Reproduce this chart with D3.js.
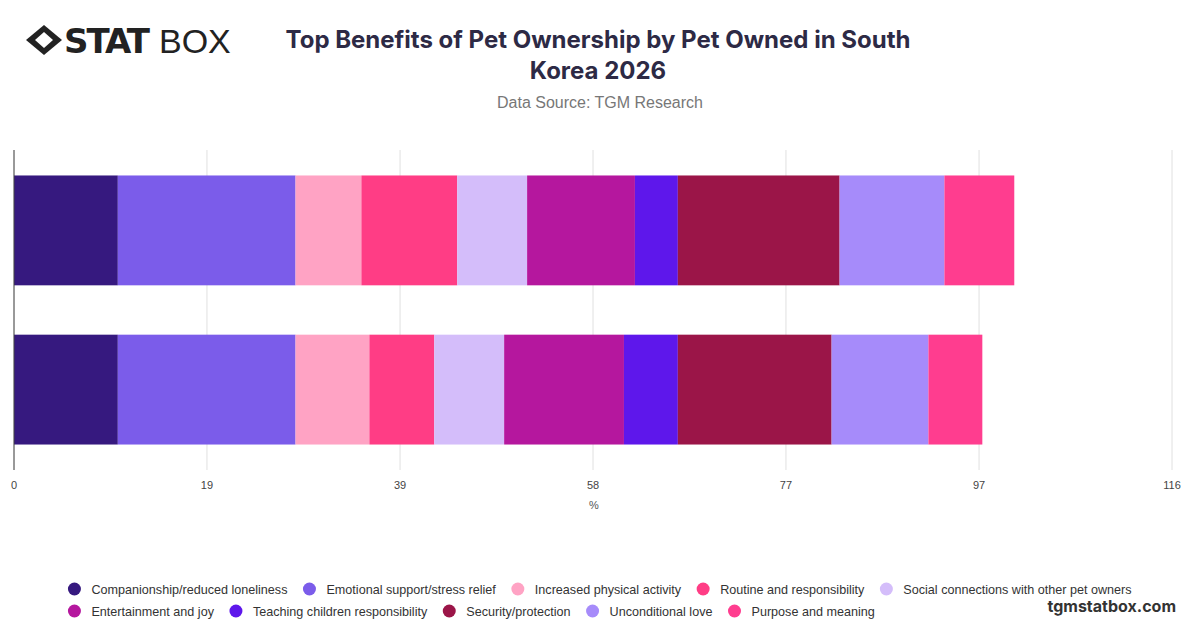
<!DOCTYPE html><html><head><meta charset="utf-8"><script src="https://cdn.jsdelivr.net/npm/d3@7"></script>
<style>body{margin:0;background:#fff;font-family:"Inter","Open Sans",sans-serif}</style></head><body><svg id="c" width="1200" height="628"></svg>
<script>
const categories=["Pet owner group 1","Pet owner group 2"];
const seriesNames=["Companionship/reduced loneliness","Emotional support/stress relief","Increased physical activity","Routine and responsibility","Social connections with other pet owners","Entertainment and joy","Teaching children responsibility","Security/protection","Unconditional love","Purpose and meaning"];
const colors=["#36197f","#7b5cea","#ffa3c4","#ff3d85","#d4bdfa","#b5179e","#5e17eb","#9b1548","#a68bfa","#ff3d8f"];
const values=[[10.4,17.8,6.6,9.6,7.0,10.8,4.3,16.2,10.5,7.0],[10.4,17.8,7.4,6.5,7.0,12.0,5.4,15.4,9.7,5.4]];
const tickValues=[0,19.33,38.67,58,77.33,96.67,116];
const tickLabels=["0","19","39","58","77","97","116"];
const svg=d3.select("#c");
const x=d3.scaleLinear().domain([0,116]).range([14,1172]);
const y=d3.scaleBand().domain(categories).range([150,470]).paddingInner(0.31).paddingOuter(0.16);
svg.append("g").selectAll("line").data(tickValues).join("line").attr("x1",d=>x(d)).attr("x2",d=>x(d)).attr("y1",150).attr("y2",470).attr("stroke","#e0e0e0").attr("stroke-width",1);
const stacked=d3.stack().keys(d3.range(seriesNames.length))(values);
stacked.forEach((s,i)=>{svg.append("g").selectAll("rect").data(s).join("rect").attr("x",d=>x(d[0])).attr("width",d=>x(d[1])-x(d[0])).attr("y",(d,j)=>y(categories[j])).attr("height",y.bandwidth()).attr("fill",colors[i]);});
svg.append("line").attr("x1",x(0)).attr("x2",x(0)).attr("y1",150).attr("y2",470).attr("stroke","#444");
svg.append("g").selectAll("text").data(tickValues).join("text").attr("x",d=>x(d)).attr("y",489).attr("text-anchor","middle").attr("font-size",11).attr("fill","#444").attr("font-family","Liberation Sans").text((d,i)=>tickLabels[i]);
svg.append("text").attr("x",594).attr("y",509).attr("text-anchor","middle").attr("font-size",11).attr("fill","#555").attr("font-family","Liberation Sans").text("%");
svg.append("text").attr("x",598).attr("y",48).attr("text-anchor","middle").attr("font-size",24).attr("font-weight",700).attr("fill","#2d2a45").text("Top Benefits of Pet Ownership by Pet Owned in South");
svg.append("text").attr("x",598).attr("y",79).attr("text-anchor","middle").attr("font-size",24).attr("font-weight",700).attr("fill","#2d2a45").text("Korea 2026");
svg.append("text").attr("x",600).attr("y",108).attr("text-anchor","middle").attr("font-size",16).attr("fill","#777").attr("font-family","Liberation Sans").text("Data Source: TGM Research");
const lg=svg.append("g").attr("transform","translate(44,40)");
lg.append("path").attr("d","M-18,0L0,-15L18,0L0,15Z").attr("fill","#222");
lg.append("path").attr("d","M-9,0L0,-8L9,0L0,8Z").attr("fill","#fff");
svg.append("text").attr("x",64).attr("y",53).attr("font-size",34).attr("font-weight",900).attr("fill","#222").attr("font-family","DejaVu Sans").attr("letter-spacing",-2).text("STAT");
svg.append("text").attr("x",159).attr("y",53).attr("font-size",34).attr("font-weight",300).attr("fill","#222").attr("font-family","Liberation Sans").text("BOX");
const rows=[[0,1,2,3,4],[5,6,7,8,9]];
let startX=null;
rows.forEach((r,ri)=>{const g=svg.append("g");let cx=0;r.forEach(i=>{const it=g.append("g").attr("transform",`translate(${cx},0)`);it.append("circle").attr("cx",6).attr("cy",0).attr("r",6.5).attr("fill",colors[i]);const t=it.append("text").attr("x",23).attr("y",4.5).attr("font-size",12.6).attr("fill","#333").attr("font-family","Liberation Sans").text(seriesNames[i]);cx+=23+t.node().getComputedTextLength()+16;});
const w=cx-16;if(startX===null)startX=(1200-w)/2;g.attr("transform",`translate(${startX},${589+ri*22})`);});
svg.append("text").attr("x",1176).attr("y",612).attr("text-anchor","end").attr("font-size",16).attr("font-weight",700).attr("fill","#333").text("tgmstatbox.com");
</script></body></html>
